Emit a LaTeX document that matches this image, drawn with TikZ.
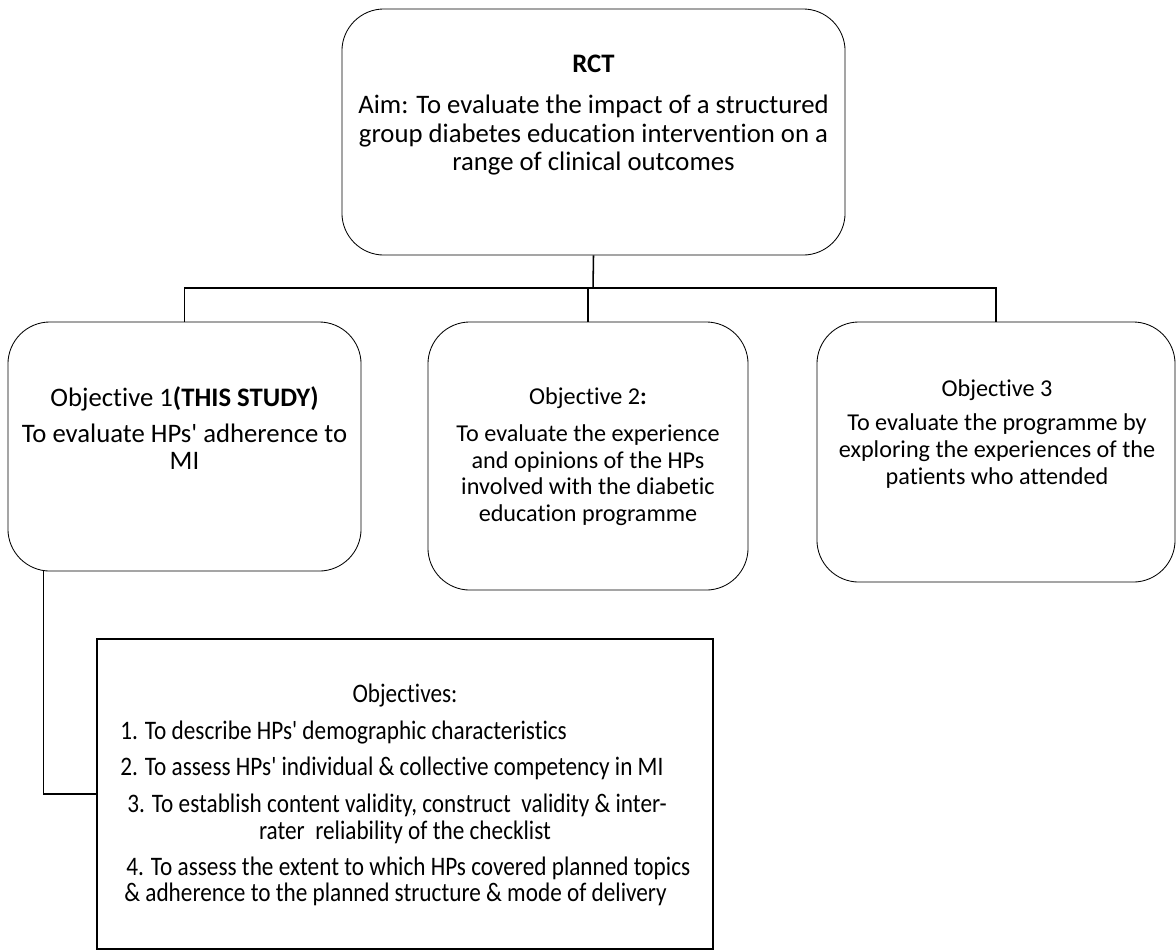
\documentclass[tikz,border=0pt]{standalone}
\usepackage{fontspec}
\newfontfamily\calib{Carlito}[Ligatures=NoCommon]
\newfontfamily\narrowfont{Carlito}[Ligatures=NoCommon, FakeStretch=0.87]
\usetikzlibrary{positioning}

\begin{document}
\begin{tikzpicture}[x=0.025cm, y=-0.025cm,
  objbox/.style={draw=black, line width=0.6pt, rounded corners=1.05cm},
  txt/.style={align=center, inner sep=0pt, font=\calib\fontsize{19}{19}\selectfont},
  smalltxt/.style={txt, font=\calib\fontsize{17.2}{19}\selectfont},
  lst/.style={inner sep=0pt, font=\narrowfont\fontsize{19}{19}\selectfont},
  link/.style={draw=black, line width=1.1pt}]
  \useasboundingbox (0,0) rectangle (1176,950);

  % Aim.
  \node[objbox, minimum width=12.575cm, minimum height=6.15cm] (rct) at (593.5,132) {};
  \node[txt, font=\calib\fontsize{19}{20.3}\selectfont] (rcttxt) at (593.5,115) {\textbf{RCT}\\[9pt]
    Aim: To evaluate the impact of a structured\\
    group diabetes education intervention on a\\
    range of clinical outcomes};

  % Objectives.
  \node[objbox, minimum width=8.825cm, minimum height=6.225cm] (o1) at (184.5,446.5) {};
  \node[txt] (o1txt) at (184.5,428) {Objective 1\textbf{(THIS STUDY)}\\[7pt]
    To evaluate HPs' adherence to\\ MI};

  \node[objbox, minimum width=8cm, minimum height=6.7cm] (o2) at (588,456) {};
  \node[smalltxt] (o2txt) at (588,457) {Objective 2\textbf{:}\\[7pt]
    To evaluate the experience\\
    and opinions of the HPs\\
    involved with the diabetic\\
    education programme};

  \node[objbox, minimum width=8.95cm, minimum height=6.5cm] (o3) at (996,452) {};
  \node[smalltxt] (o3txt) at (997,434) {Objective 3\\[5pt]
    To evaluate the programme by\\
    exploring the experiences of the\\
    patients who attended};

  % This study.
  \node[draw=black, line width=1.3pt, minimum width=15.4cm, minimum height=7.75cm] (list) at (405,794) {};
  \node[lst] (lhead) at (405,695) {Objectives:};
  \node[lst, anchor=west] (l1) at (120,733) {1. To describe HPs' demographic characteristics};
  \node[lst, anchor=west] (l2) at (120,768) {2. To assess HPs' individual \& collective competency in MI};
  \node[lst, anchor=west] (l3a) at (127,805) {3. To establish content validity, construct\ \ validity \& inter-};
  \node[lst] (l3b) at (405,832) {rater\ \ reliability of the checklist};
  \node[lst, anchor=west] (l4a) at (126,868) {4. To assess the extent to which HPs covered planned topics};
  \node[lst, anchor=west] (l4b) at (124,894) {\& adherence to the planned structure \& mode of delivery};

  % Connectors.
  \coordinate (bus) at (593,288);
  \draw[link] (rct.south) -- (bus);
  \draw[link] (o1.north) |- (bus) -| (o3.north);
  \draw[link] (o2.north) -- (o2.north |- bus);
  \draw[link] ([xshift=0.9cm]o1.south west) |- (list.west);
\end{tikzpicture}
\end{document}
